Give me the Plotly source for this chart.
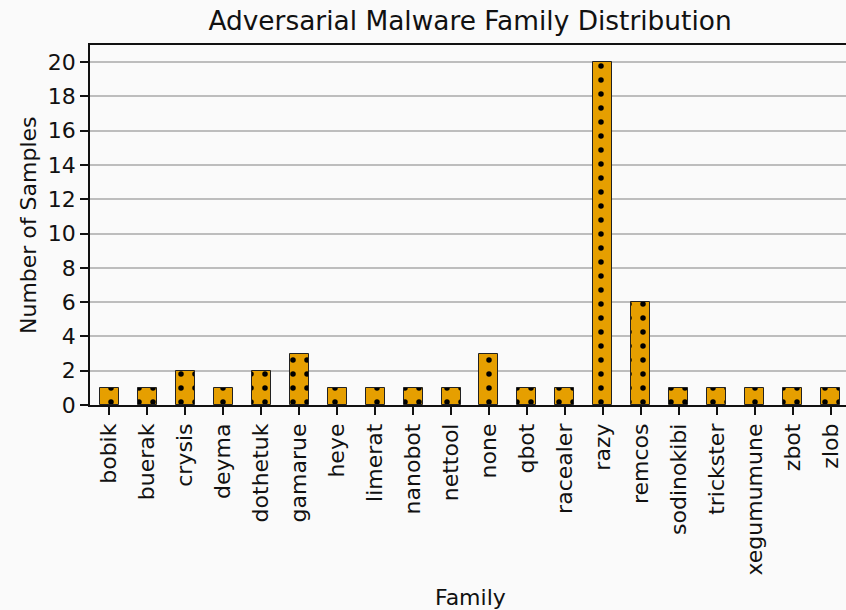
import plotly.graph_objects as go

families = ["bobik", "buerak", "crysis", "deyma", "dothetuk", "gamarue", "heye",
            "limerat", "nanobot", "nettool", "none", "qbot", "racealer", "razy",
            "remcos", "sodinokibi", "trickster", "xegumumune", "zbot", "zlob"]
counts = [1, 1, 2, 1, 2, 3, 1, 1, 1, 1, 3, 1, 1, 20, 6, 1, 1, 1, 1, 1]
y_ticks = list(range(0, 21, 2))

FONT = "DejaVu Sans"
BG = "#fafafa"

fig = go.Figure()
fig.add_trace(go.Bar(
    x=list(range(len(families))),
    y=counts,
    width=0.5,
    marker=dict(
        color="#E69F00",
        line=dict(color="#222222", width=1),
        pattern=dict(shape=".", fgcolor="#000000", bgcolor="#E69F00",
                     fgopacity=1, size=14, solidity=0.12, fillmode="overlay"),
    ),
    showlegend=False,
))

fig.update_layout(
    width=846, height=610,
    margin=dict(l=90, r=0, t=45, b=205),
    paper_bgcolor=BG, plot_bgcolor=BG,
    font=dict(family=FONT, size=22, color="#111111"),
    title=dict(text="Adversarial Malware Family Distribution",
               font=dict(family=FONT, size=26.4, color="#111111"),
               x=(470) / 846, xanchor="center", xref="container",
               y=1 - 21 / 610, yanchor="middle", yref="container"),
    bargap=0,
)

fig.update_xaxes(
    range=[-0.5, 19.395],
    tickmode="array",
    tickvals=list(range(len(families))),
    ticktext=families,
    tickangle=-90,
    ticks="outside", ticklen=8, tickwidth=1.5, tickcolor="#111111",
    showline=True, linecolor="#111111", linewidth=1.5, mirror=True,
    showgrid=False, zeroline=False,
    tickfont=dict(family=FONT, size=22, color="#111111"),
)
fig.update_yaxes(
    range=[0, 21],
    tickmode="array", tickvals=y_ticks, ticktext=[str(v) for v in y_ticks],
    ticks="outside", ticklen=8, tickwidth=1.5, tickcolor="#111111",
    showline=True, linecolor="#111111", linewidth=1.5, mirror=False,
    showgrid=True, gridcolor="#bdbdbd", gridwidth=1.6,
    zeroline=False,
    tickfont=dict(family=FONT, size=22, color="#111111"),
)

fig.add_annotation(text="Family", xref="paper", yref="paper",
                   x=(470 - 90) / 756, y=-(597 - 405) / 360,
                   xanchor="center", yanchor="middle", showarrow=False,
                   font=dict(family=FONT, size=22, color="#111111"))
fig.add_annotation(text="Number of Samples", xref="paper", yref="paper",
                   x=(28 - 90) / 756, y=0.5, textangle=-90,
                   xanchor="center", yanchor="middle", showarrow=False,
                   font=dict(family=FONT, size=22, color="#111111"))

fig.write_html("out.html")
